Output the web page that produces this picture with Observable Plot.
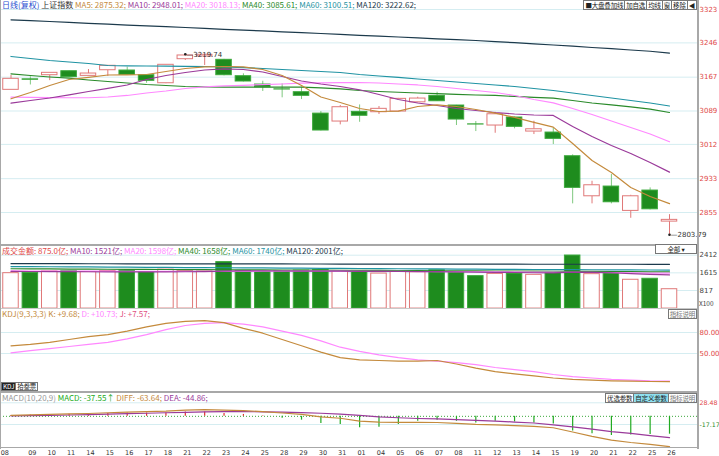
<!DOCTYPE html>
<html><head><meta charset="utf-8">
<script src="https://cdn.jsdelivr.net/npm/d3@7"></script>
<script src="https://cdn.jsdelivr.net/npm/@observablehq/plot@0.6"></script>
<style>
body{margin:0;background:#fff;}
#root{position:relative;width:719px;height:456px;overflow:hidden;font-family:"Noto Sans CJK SC","DejaVu Sans",sans-serif;font-size:8px;background:#fff;}
.t{position:absolute;white-space:nowrap;font-size:8px;line-height:9px;}
.hl{position:absolute;left:0;width:698px;background:#a8a8a8;}
.bar{position:absolute;display:flex;flex-direction:row;}
.btn{border:1px solid #777;margin-left:-1px;background:#fff;font-size:6.5px;line-height:8px;height:8px;padding:0 1px;white-space:nowrap;color:#222;letter-spacing:-0.2px;}
</style></head><body><div id="root"></div>
<script>
// ---------- data ----------
const dates = ["08","09","10","11","14","15","16","17","18","21","22","23","24","25","28","29","30","31","01","04","05","06","07","08","11","12","13","14","15","19","20","21","22","25","26"];
const open  = [3137.8,3162,3171.5,3180.7,3170,3183,3182.3,3171.5,3153,3208.4,3214.7,3207,3169.2,3150,3139,3132.3,3083,3064.7,3087,3086.2,3087.8,3109,3124,3101.6,3058.2,3055.5,3074,3041.6,3039.3,2984.7,2892.4,2914.8,2858.7,2905.6,2834];
const high  = [3170.8,3168,3177,3181,3184.6,3193.2,3190,3172,3196,3219.74,3219,3208,3174.7,3157.6,3151.6,3144,3087.8,3101.6,3103,3099.3,3118,3120.7,3132.3,3102,3064.7,3086,3075,3065.4,3050,2987.9,2927,2942.5,2894.7,2911.8,2850];
const low   = [3137.8,3149,3159,3166,3170,3168.5,3172,3153,3152,3205.4,3193.9,3170,3156,3134,3119.4,3115.4,3043,3057,3063,3081,3087,3108,3111,3055.5,3041.6,3037.7,3047.9,3034.7,3011.7,2874.9,2874.9,2874.9,2841.7,2861,2803.79];
const close = [3163.2,3161,3177,3167,3175.4,3193.2,3172.4,3158.6,3195.5,3217,3218.6,3171.5,3157,3143.8,3138.5,3124,3044,3097.7,3078,3094,3117,3117.7,3111.5,3069.3,3057.8,3081.5,3052.5,3046.9,3024.8,2911.8,2917.8,2878.6,2892.4,2862.4,2838];
const ma5   = [3117.2,3131.7,3147.8,3161.6,3166.3,3172.0,3172.5,3173.2,3180.1,3187.0,3190.5,3191.6,3190.9,3184.7,3170.9,3147.8,3121.3,3108.6,3094.8,3087.9,3088.6,3099.4,3103.3,3099.4,3092.5,3084.0,3074.2,3062.6,3051.8,3014.2,2975.0,2947.3,2912.7,2892.0,2875.32];
const ma10  = [3107.0,3113.2,3119.0,3126,3134,3141,3149,3161.6,3170.9,3177.8,3183.5,3185.9,3184.7,3178.9,3168.6,3158.2,3151.3,3145.5,3137.9,3127.1,3115.5,3107.5,3101.7,3094.8,3090.2,3085.6,3082.1,3079.8,3078.7,3053.3,3030.3,3009.5,2991.1,2970.3,2948.01];
const ma20  = [3120.9,3120.2,3119.7,3119.5,3119.5,3121.3,3124.8,3130.5,3135.1,3140.9,3144.4,3146.7,3148.3,3149.7,3151.3,3153.1,3154.0,3154.2,3154.7,3153.5,3151.3,3149.0,3145.5,3140.9,3136.3,3131.7,3124.8,3115.5,3107.9,3094.8,3081.0,3066.0,3051.0,3036.0,3018.13];
const ma40  = [3174.8,3170.9,3167.4,3164.6,3160.5,3157.0,3153.6,3150.1,3147.8,3145.5,3144.4,3143.9,3143.9,3143.9,3143.9,3143.9,3142.1,3139.8,3136.3,3134.0,3132.2,3130.5,3128.9,3127.1,3125.9,3124.8,3122.5,3120.2,3118.5,3113.2,3107.5,3102.9,3098.3,3093.2,3085.61];
const ma60  = [3214.7,3210.1,3205.4,3202.0,3198.5,3193.9,3193.2,3192.8,3192.3,3192.1,3191.6,3190.5,3188.8,3187.0,3184.7,3182.4,3180.1,3177.8,3173.2,3169.7,3166.3,3162.8,3159.3,3155.9,3152.4,3149.0,3145.5,3140.9,3136.3,3130.5,3124.8,3119.0,3113.2,3107.5,3100.51];
const ma120 = [3299.3,3297.2,3295.3,3293.3,3291.2,3289.3,3287.2,3285.4,3283.4,3281.5,3279.4,3277.4,3275.5,3273.7,3271.6,3269.8,3267.7,3265.6,3263.5,3261.7,3259.6,3257.5,3255.5,3253.6,3251.5,3249.0,3246.5,3243.7,3241.2,3238.4,3235.4,3232.6,3229.6,3226.7,3222.62];
const priceTicks = [3323,3246,3167,3089,3012,2933,2855];

const volume = [1600,1620,1680,1700,1650,1700,1720,1650,1760,1700,1680,2100,1700,1650,1700,1720,1750,1700,1701,1582,1670,1644,1732,1626,1466,1568,1582,1524,1613,2397,1555,1613,1302,1347,875];
const vma10  = [1680,1675,1670,1668,1665,1662,1660,1660,1662,1665,1670,1690,1700,1700,1698,1695,1690,1688,1685,1680,1675,1670,1668,1660,1650,1640,1630,1620,1615,1650,1640,1620,1580,1550,1521];
const vma20  = [1700,1698,1695,1692,1690,1688,1686,1684,1682,1680,1680,1682,1684,1686,1688,1690,1690,1688,1686,1684,1680,1676,1672,1668,1664,1660,1655,1650,1645,1640,1635,1625,1615,1605,1598];
const vma40  = [1800,1795,1790,1786,1782,1778,1774,1770,1766,1762,1758,1754,1750,1746,1742,1738,1734,1730,1726,1722,1718,1714,1710,1706,1702,1698,1694,1690,1686,1682,1678,1674,1668,1662,1658];
const vma60  = [1900,1895,1890,1885,1880,1875,1870,1865,1860,1855,1850,1845,1840,1835,1830,1825,1820,1815,1810,1805,1800,1795,1790,1785,1780,1775,1770,1765,1760,1757,1754,1750,1747,1744,1740];
const vma120 = [2030,2029,2028,2027,2026,2025,2024,2023,2022,2021,2020,2019,2018,2017,2016,2015,2014,2013,2012,2011,2010,2009,2008,2007,2006,2005,2005,2004,2004,2003,2003,2002,2002,2001,2001];
const volTicks = [2412,1615,817];

const kdjK = [61,63,66,70,74,77,82,88,93,96,97,94,86,79,70,61,52,44,41,40,39,39,40,35,29,24,21,18,15,13,12,11,10.5,10,9.68];
const kdjD = [51,54,57,60,63,66,71,77,84,90,93,94,92,88,82,76,68,59,53,48,44,41,39,37,34,30,27,24,20,17,15,13,12,11,10.73];
const kdjTicks = [80,50];

const diff = [2,3,4,5,6,7.5,9,10,11,13,14,13,12,10,7,4,-1,-4,-10,-12,-12.5,-12.5,-13,-15,-17,-18,-19.5,-21,-24,-33,-42,-50,-55,-59,-63.64];
const dea  = [1,1.5,2,2.8,3.6,4.5,5.5,6.5,7.5,8.5,9.5,10,10,9.5,9,8,6.5,4.5,2,-1,-3,-4.5,-5.5,-7,-8.5,-10,-12,-14,-17.8,-22,-27,-32,-36,-40.5,-44.86];
const macd = [2,3,4,4.4,4.8,6,7,7,7,9,9,6,4,1,-4,-8,-15,-17,-24,-22.8,-17.3,-10.4,-8.3,-10.4,-13.8,-10.4,-11.8,-13.8,-15.9,-31.1,-36.6,-40.1,-39.4,-38,-37.55];
const macdTicks = [28.48,-17.17];

// ---------- colors ----------
const RED="#e07878", GREEN="#1e8c1e", GWICK="#7fc87f";
const C5="#c48a3c", C10="#9a3a9a", C20="#ff88ff", C40="#2a8a2a", C60="#1f93a3", C120="#1c3a4c", GRID="#d5edf1";

const root = document.getElementById("root");
const W = 719, XR = [10.5, 669];
const idx = dates.map((d,i)=>i);
const candles = idx.map(i=>({i,o:open[i],h:high[i],l:low[i],c:close[i],up:close[i]>=open[i]}));
const ups = candles.filter(d=>d.up), downs = candles.filter(d=>!d.up);
const font = {fontFamily:'"DejaVu Sans","Noto Sans CJK SC",sans-serif',fontSize:"7px",background:"transparent",overflow:"visible"};
const xs = {type:"linear",domain:[0,34],range:XR,axis:null};

function place(svg, top){ svg.style.position="absolute"; svg.style.left="0px"; svg.style.top=top+"px"; root.appendChild(svg); }
function line(arr, stroke){ return Plot.line(idx,{x:i=>i,y:i=>arr[i],stroke,strokeWidth:1.2}); }
function yAxis(ticks, fill, fmt, fs){ return Plot.axisY(ticks,{anchor:"right",label:null,tickSize:0,tickPadding:2,fill,textAnchor:"start",fontSize:fs||7,tickFormat:fmt}); }

// main panel
const mainPlot = Plot.plot({
  width:W, height:245, marginLeft:0, marginRight:22, marginTop:0, marginBottom:0, style:font,
  x:xs, y:{domain:[3323,2855], range:[9,212]},
  marks:[
    Plot.gridY(priceTicks,{stroke:GRID,strokeOpacity:1}),
    yAxis(priceTicks,"#e04848",d=>String(d)),
    Plot.ruleX(ups,{x:"i",y1:d=>Math.max(d.o,d.c),y2:"h",stroke:RED}),
    Plot.ruleX(ups,{x:"i",y1:"l",y2:d=>Math.min(d.o,d.c),stroke:RED}),
    Plot.ruleX(downs,{x:"i",y1:"l",y2:"h",stroke:GWICK}),
    Plot.rect(ups,{x1:d=>d.i-0.4,x2:d=>d.i+0.4,y1:"o",y2:"c",fill:"#fff",stroke:RED}),
    Plot.rect(downs,{x1:d=>d.i-0.4,x2:d=>d.i+0.4,y1:"o",y2:"c",fill:GREEN,stroke:"#3aa83a"}),
    line(ma120,C120), line(ma60,C60), line(ma40,C40), line(ma20,C20), line(ma10,C10), line(ma5,C5),
    Plot.dot([candles[9]],{x:"i",y:"h",r:1.3,fill:"#222"}),
    Plot.text([candles[9]],{x:"i",y:"h",text:d=>"—"+d.h.toFixed(2),textAnchor:"start",dx:1,fill:"#333",fontSize:7}),
    Plot.dot([candles[34]],{x:"i",y:"l",r:1.3,fill:"#222"}),
    Plot.text([candles[34]],{x:"i",y:"l",text:d=>"—"+d.l.toFixed(2),textAnchor:"start",dx:1,fill:"#333",fontSize:7})
  ]});
place(mainPlot,0);

// volume panel
const vdata = idx.map(i=>({i,v:volume[i],up:candles[i].up}));
const volPlot = Plot.plot({
  width:W, height:64, marginLeft:0, marginRight:22, marginTop:0, marginBottom:0, style:font,
  x:xs, y:{domain:[2412,817], range:[9.7,45]},
  marks:[
    Plot.gridY(volTicks,{stroke:GRID,strokeOpacity:1}),
    yAxis(volTicks,"#444",d=>String(d)),
    Plot.rect(vdata.filter(d=>d.up),{x1:d=>d.i-0.4,x2:d=>d.i+0.4,y1:0,y2:"v",fill:"#fff",stroke:RED}),
    Plot.rect(vdata.filter(d=>!d.up),{x1:d=>d.i-0.4,x2:d=>d.i+0.4,y1:0,y2:"v",fill:GREEN,stroke:"#3aa83a"}),
    line(vma120,C120), line(vma60,C60), line(vma40,C40), line(vma20,C20), line(vma10,C10)
  ]});
place(volPlot,245);

// KDJ panel
const kdjPlot = Plot.plot({
  width:W, height:75, marginLeft:0, marginRight:22, marginTop:0, marginBottom:0, style:font,
  x:xs, y:{domain:[0,100], range:[79,9]},
  marks:[
    Plot.gridY(kdjTicks,{stroke:GRID,strokeOpacity:1}),
    yAxis(kdjTicks,"#e04848",d=>d.toFixed(2)),
    line(kdjD,C20), line(kdjK,C5)
  ]});
place(kdjPlot,309);

// MACD panel
const mdata = idx.map(i=>({i,m:macd[i]}));
const macdPlot = Plot.plot({
  width:W, height:57, marginLeft:0, marginRight:22, marginTop:0, marginBottom:0, style:font,
  x:xs, y:{domain:[28.48,-17.17], range:[10.3,32]},
  marks:[
    Plot.gridY(macdTicks,{stroke:GRID,strokeOpacity:1}),
    Plot.ruleY([0],{stroke:"#3aa83a",strokeDasharray:"1,2"}),
    yAxis(macdTicks,d=>d>0?"#e04848":"#2a8a2a",d=>d.toFixed(2),6.3),
    Plot.ruleX(mdata.filter(d=>d.m>=0),{x:"i",y1:0,y2:"m",stroke:"#e03030",strokeWidth:1.2}),
    Plot.ruleX(mdata.filter(d=>d.m<0),{x:"i",y1:0,y2:"m",stroke:"#22aa22",strokeWidth:1.2}),
    line(dea,C10), line(diff,C5)
  ]});
place(macdPlot,392);

// date axis
const datePlot = Plot.plot({
  width:W, height:8, marginLeft:0, marginRight:22, marginTop:0, marginBottom:0, style:font,
  x:xs, y:{domain:[0,1],range:[8,0],axis:null},
  marks:[
    Plot.text(idx.slice(1),{x:i=>i,y:0.45,text:i=>dates[i],dx:2,fill:"#333",fontSize:6.5}),
    Plot.text([0],{x:i=>i,y:0.45,text:i=>dates[i],textAnchor:"end",dx:-2,fill:"#333",fontSize:6.5})
  ]});
place(datePlot,448);

// frame lines
function hl(top,h,color){const d=document.createElement("div");d.className="hl";d.style.top=top+"px";d.style.height=h+"px";if(color)d.style.background=color;root.appendChild(d);}
hl(244,2); hl(308,1,"#c8c8c8"); hl(391,2); hl(447,1,"#a8a8a8");
const vr=document.createElement("div");vr.style.cssText="position:absolute;left:697px;top:0;width:2px;height:449px;background:#a8a8a8";root.appendChild(vr);
const vl=document.createElement("div");vl.style.cssText="position:absolute;left:0;top:0;width:1px;height:449px;background:#a8a8a8";root.appendChild(vl);

// titles
function title(top,parts){const d=document.createElement("div");d.className="t";d.style.top=top+"px";d.style.left="2px";
  parts.forEach(([s,c])=>{const sp=document.createElement("span");sp.textContent=s;sp.style.color=c;d.appendChild(sp);});root.appendChild(d);}
title(0,[["日线(复权)","#2a4fd0"],[" 上证指数 ","#333"],["MA5: 2875.32; ",C5],["MA10: 2948.01; ",C10],["MA20: 3018.13; ",C20],["MA40: 3085.61; ",C40],["MA60: 3100.51; ",C60],["MA120: 3222.62;",C120]]);
title(246,[["成交金额: 875.0亿; ","#e04848"],["MA10: 1521亿; ",C10],["MA20: 1598亿; ",C20],["MA40: 1658亿; ",C40],["MA60: 1740亿; ",C60],["MA120: 2001亿;",C120]]);
title(309,[["KDJ(9,3,3,3) K: +9.68; ",C5],["D: +10.73; ",C20],["J: +7.57;","#e05080"]]);
title(393,[["MACD(10,20,9) ","#999"],["MACD: -37.55↑ ","#22aa22"],["DIFF: -63.64; ",C5],["DEA: -44.86;",C10]]);

// button bars (right-aligned at x=697)
function bar(top,right,items){const b=document.createElement("div");b.className="bar";b.style.top=top+"px";b.style.right=right+"px";
  items.forEach(([txt,bg,color,w])=>{const e=document.createElement("div");e.className="btn";e.textContent=txt;if(bg)e.style.background=bg;if(color)e.style.color=color;if(w){e.style.width=w+"px";e.style.textAlign="center";}b.appendChild(e);});root.appendChild(b);}
bar(0,22,[["■大盘叠加线"],["加自选"],["均线"],["窗"],["移除"],["◀"]]);
bar(244,22,[["全部  ▾",null,null,38]]);
bar(393,22,[["优选参数"],["自定义参数","#8fe0f0"],["指标说明",null,"#777"]]);
bar(309,22,[["指标说明",null,"#777"]]);
const tabs=document.createElement("div");tabs.className="bar";tabs.style.left="2px";tabs.style.top="382px";
[["KDJ","#222","#fff"],["拾叁票","#fff","#222"]].forEach(([t,bg,c])=>{const e=document.createElement("div");e.className="btn";e.textContent=t;e.style.background=bg;e.style.color=c;e.style.height="7px";e.style.lineHeight="7px";tabs.appendChild(e);});root.appendChild(tabs);
const x100=document.createElement("div");x100.className="t";x100.style.cssText+="left:699px;top:299px;color:#444;font-size:6.5px";x100.textContent="X100";root.appendChild(x100);
</script></body></html>
